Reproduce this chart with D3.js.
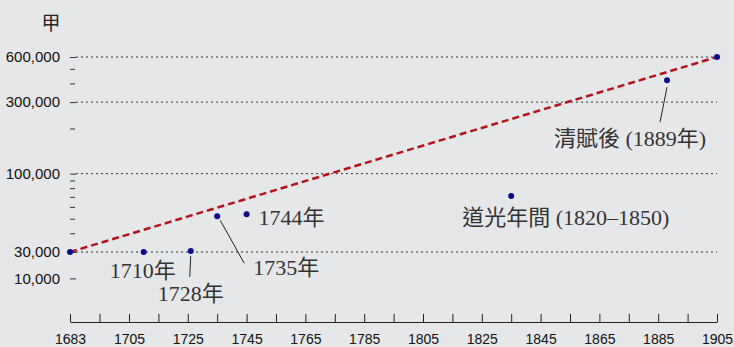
<!DOCTYPE html>
<html>
<head>
<meta charset="utf-8">
<script src="https://cdn.jsdelivr.net/npm/d3@7"></script>
<style>
  body { margin: 0; background: #e6e7e9; }
  svg { display: block; }
  .tick text { font-family: "Liberation Sans", Arial, sans-serif; }
</style>
</head>
<body>
<script>
// size of the svg
const w = 734;
const h = 347;

// data
const years = [1683, 1710, 1726, 1735, 1745, 1835, 1888, 1905];
const values = [30000, 30000, 30500, 52000, 53500, 71000, 420000, 600000];
const noteText = ["", "1710年", "1728年", "1735年", "1744年", "道光年間 (1820–1850)", "清賦後 (1889年)", ""];

// trend line, first to last point
const trendYears = [1683, 1905];
const trendValues = [30000, 600000];

// axis ticks
const xLabelYears = [1683, 1705, 1725, 1745, 1765, 1785, 1805, 1825, 1845, 1865, 1885, 1905];
const xMinorYears = [1694, 1715, 1735, 1755, 1775, 1795, 1815, 1835, 1855, 1875, 1895];
const yMajor = [600000, 300000, 100000, 30000, 20000];
const yMajorLabels = ["600,000", "300,000", "100,000", "30,000", "10,000"];
const yGrid = [600000, 300000, 100000, 30000];
const yMinor = [500000, 400000, 200000, 90000, 80000, 70000, 60000, 50000, 40000];
const unitLabel = "甲";

const svg = d3.select("body").append("svg").attr("width", w).attr("height", h);

// x axis has a short first interval (1683-1705), so two pieces
const x = d3.scaleLinear().domain([1683, 1705, 1905]).range([70, 129, 717]);
const y = d3.scaleLog().domain([30000, 600000]).range([252, 57]);

// gridlines
svg.append("g")
  .selectAll("line")
  .data(yGrid)
  .join("line")
  .attr("x1", 76)
  .attr("x2", x(1905))
  .attr("y1", d => y(d))
  .attr("y2", d => y(d))
  .attr("stroke", "#333")
  .attr("stroke-width", 1)
  .attr("stroke-dasharray", "2,3");

// y axis (no line, only ticks)
const yAxis = d3.axisLeft(y)
  .tickValues(yMajor)
  .tickSize(6)
  .tickPadding(10)
  .tickFormat((d, i) => yMajorLabels[i]);
const gy = svg.append("g").attr("transform", "translate(76,0)").call(yAxis);
gy.select(".domain").remove();
gy.selectAll("text").style("font-size", "15px").attr("fill", "#111");
gy.selectAll("line").attr("stroke", "#333");

const gyMinor = svg.append("g").attr("transform", "translate(75,0)")
  .call(d3.axisLeft(y).tickValues(yMinor).tickSize(5).tickFormat(""));
gyMinor.select(".domain").remove();
gyMinor.selectAll("line").attr("stroke", "#333");

// unit
svg.append("text")
  .attr("x", 51)
  .attr("y", 30)
  .attr("text-anchor", "middle")
  .style("font-family", "'Noto Sans CJK TC', sans-serif")
  .style("font-size", "19px")
  .attr("fill", "#222")
  .text(unitLabel);

// x axis, ticks pointing up
const xAxis = d3.axisBottom(x)
  .tickValues(xLabelYears.concat(xMinorYears).sort((a, b) => a - b))
  .tickSize(-8)
  .tickSizeOuter(0)
  .tickPadding(12)
  .tickFormat(d => xLabelYears.includes(d) ? d : "");
const gx = svg.append("g").attr("transform", "translate(0,322)").call(xAxis);
gx.selectAll("text").style("font-size", "14px").attr("fill", "#111");
gx.selectAll("line").attr("stroke", "#222");
gx.select(".domain").attr("stroke", "#222");

// trend line
svg.append("path")
  .datum(d3.zip(trendYears, trendValues))
  .attr("d", d3.line().x(d => x(d[0])).y(d => y(d[1])))
  .attr("fill", "none")
  .attr("stroke", "#b5121b")
  .attr("stroke-width", 2.5)
  .attr("stroke-dasharray", "7,4");

const pts = years.map((yr, i) => ({ yr: yr, v: values[i], note: noteText[i] }));

// label offsets from the point (layout only)
const offsets = {
  1: { dx: -34, dy: 26, anchor: "start" },
  2: { dx: -33, dy: 50, anchor: "start", lead: [0, 5, -1, 26] },
  3: { dx: 36, dy: 59, anchor: "start", lead: [3, 4, 27, 47] },
  4: { dx: 12, dy: 11, anchor: "start" },
  5: { dx: -49, dy: 29, anchor: "start" },
  6: { dx: -113, dy: 66, anchor: "start", lead: [0, 7, -7, 42] }
};

// leader lines
svg.append("g")
  .selectAll("line")
  .data(pts.filter((d, i) => offsets[i] && offsets[i].lead))
  .join("line")
  .attr("x1", d => x(d.yr) + offsets[pts.indexOf(d)].lead[0])
  .attr("y1", d => y(d.v) + offsets[pts.indexOf(d)].lead[1])
  .attr("x2", d => x(d.yr) + offsets[pts.indexOf(d)].lead[2])
  .attr("y2", d => y(d.v) + offsets[pts.indexOf(d)].lead[3])
  .attr("stroke", "#222")
  .attr("stroke-width", 1);

// points
svg.append("g")
  .selectAll("circle")
  .data(pts)
  .join("circle")
  .attr("cx", d => x(d.yr))
  .attr("cy", d => y(d.v))
  .attr("r", 3)
  .attr("fill", "#0b0b8a");

// notes
svg.append("g")
  .selectAll("text")
  .data(pts.filter(d => d.note !== ""))
  .join("text")
  .attr("x", d => x(d.yr) + offsets[pts.indexOf(d)].dx)
  .attr("y", d => y(d.v) + offsets[pts.indexOf(d)].dy)
  .attr("text-anchor", d => offsets[pts.indexOf(d)].anchor)
  .style("font-family", "'Liberation Serif', 'Noto Sans CJK TC', serif")
  .style("font-size", "22px")
  .attr("fill", "#333")
  .text(d => d.note);
</script>
</body>
</html>
